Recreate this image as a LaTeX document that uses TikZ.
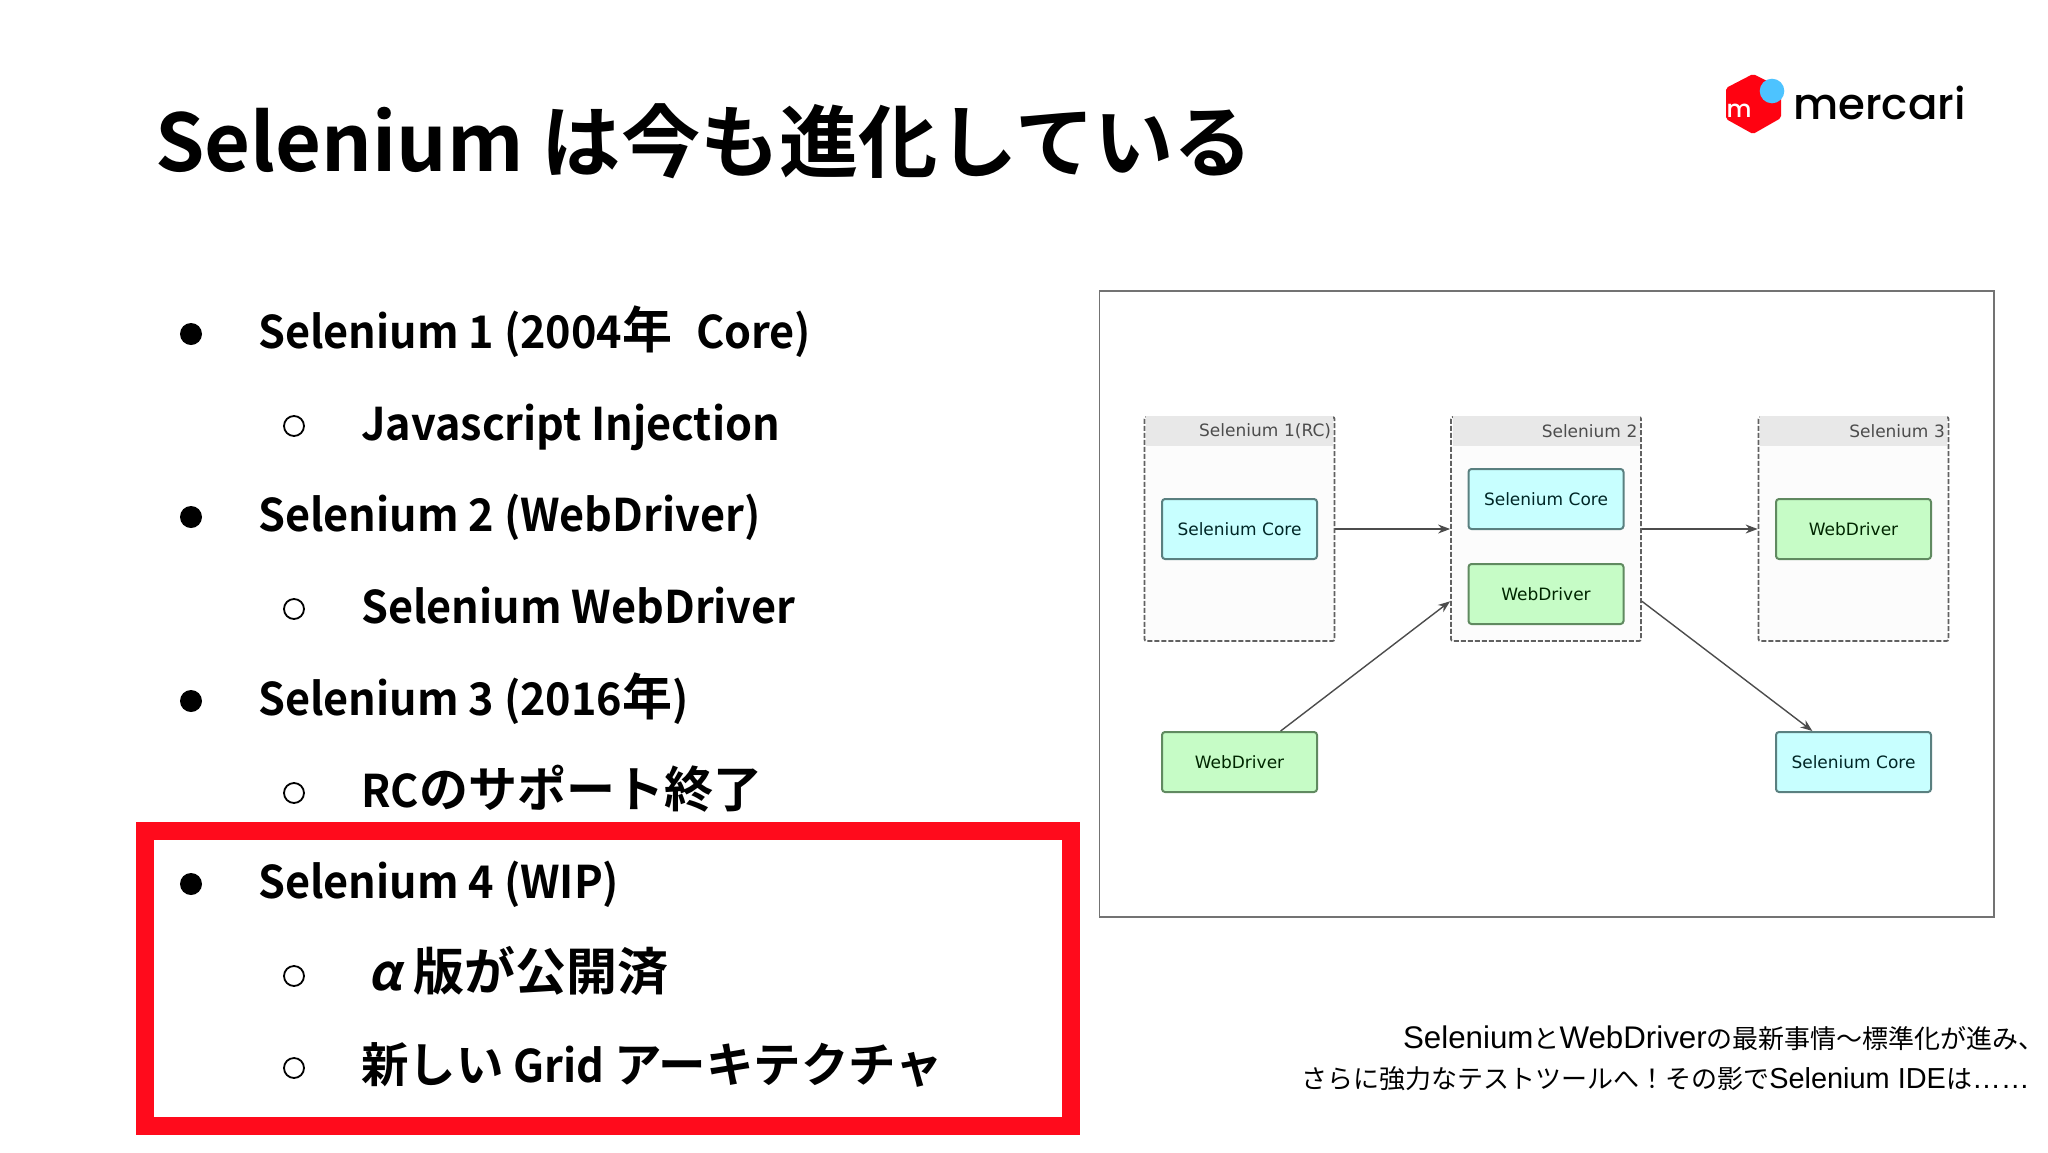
\documentclass[tikz,border=0pt]{standalone}
\usepackage{fontspec}
\setmainfont{Liberation Sans}
\newfontfamily\jpbold{Noto Sans CJK JP Bold}
\newfontfamily\jplatin[FakeStretch=0.96]{Noto Sans CJK JP Bold}
\newfontfamily\jpslant[FakeSlant=0.2]{Noto Sans CJK JP Bold}
\newfontfamily\jpthin{Noto Sans CJK JP}
\newfontfamily\logofont{Poppins Medium}
\newfontfamily\vera{DejaVu Sans}
\newcommand{\kana}[2][50]{{\jpbold\fontsize{#1}{54}\selectfont #2}}
\newcommand{\jpsmall}[1]{{\jpthin\fontsize{26}{34}\selectfont #1}}
\usetikzlibrary{arrows.meta,positioning}
\definecolor{corefill}{HTML}{C8FFFF}
\definecolor{coreline}{HTML}{5A8080}
\definecolor{wdfill}{HTML}{C6FCC6}
\definecolor{wdline}{HTML}{608A60}
\definecolor{alertred}{HTML}{FF0B1C}
\definecolor{logored}{HTML}{FF0211}
\definecolor{logoblue}{HTML}{4DC3FF}
\tikzset{
  listitem/.style={anchor=base west,inner sep=0pt,font=\jplatin\fontsize{45}{54}\selectfont},
  dot/.style={circle,fill=black,inner sep=0pt,minimum size=22pt},
  ring/.style={circle,draw=black,line width=1.8pt,inner sep=0pt,minimum size=20pt},
  grp/.style={draw=black!62,dash pattern=on 5pt off 2pt,line width=1.8pt,rounded corners=2pt,fill=black!1,
    minimum width=190pt,minimum height=224pt,inner sep=0pt},
  grphead/.style={fill=black!9,minimum width=187pt,minimum height=30pt,inner sep=0pt,
    anchor=north,align=right,text width=183pt,text=black!70,font=\vera\fontsize{17}{20}\selectfont},
  unit/.style={rounded corners=3pt,line width=2pt,minimum width=155pt,minimum height=60pt,
    inner sep=0pt,font=\vera\fontsize{17}{20}\selectfont},
  core/.style={unit,draw=coreline,fill=corefill,text=black!70!teal},
  wd/.style={unit,draw=wdline,fill=wdfill,text=black!75!green!60!black},
  flow/.style={-{Stealth[length=12pt,width=9pt]},line width=1.4pt,draw=black!70},
  source/.style={anchor=base east,inner sep=0pt}
}
\begin{document}
\begin{tikzpicture}[x=1pt,y=-1pt]
  \useasboundingbox (0,0) rectangle (2048,1152);
  \fill[white] (0,0) rectangle (2048,1152);

  % title and logo
  \node[anchor=base west,inner sep=0pt,font=\jpbold\fontsize{79.3}{96}\selectfont] (title) at (155,171)
    {Selenium は今も進化している};
  \fill[logored,rounded corners=2pt] (1753,74) -- (1781,88) -- (1781,118) -- (1753,134)
    -- (1726,119) -- (1726,88) -- cycle;
  \fill[logoblue] (1772,91) circle (12.3);
  \node[text=white,inner sep=0pt,font=\logofont\fontsize{24}{24}\selectfont] (logom) at (1739,111) {m};
  \node[anchor=base west,inner sep=0pt,font=\logofont\fontsize{43.5}{50}\selectfont] (logotext) at (1793,119) {mercari};

  % bullet list
  \foreach \ypos/\kind/\xpos/\txt in {
    348/dot/258/{Selenium 1 (2004\kana{年}\hspace{14pt} Core)},
    440/ring/361/{Javascript Injection},
    531/dot/258/{Selenium 2 (WebDriver)},
    623/ring/361/{Selenium WebDriver},
    715/dot/258/{Selenium 3 (2016\kana{年})},
    807/ring/361/{RC\kana[49]{のサポート終了}},
    898/dot/258/{Selenium 4 (WIP)},
    990/ring/361/{{\jpslant\,\fontsize{50}{54}\selectfont α}\hspace{2pt} \kana[51]{版が公開済}},
    1082/ring/361/{\kana[47.5]{新しい} Grid \kana[47.5]{アーキテクチャ}}}{
    \node[listitem] (item\ypos) at (\xpos,\ypos) {\txt};
    \node[\kind] (mark\ypos) at (\xpos-67,\ypos-14) {};
  }
  \draw[alertred,line width=18pt] (145,831) rectangle (1071,1126);

  % screenshot frame
  \draw[black!55,line width=1.4pt] (1099.5,291) rectangle (1994,917);
  \node[grp] (rcgroup) at (1239.5,529) {};
  \node[grp] (s2group) at (1546,529) {};
  \node[grp] (s3group) at (1853.5,529) {};
  \node[grphead] (rchead) at (rcgroup.north) {Selenium 1(RC)};
  \node[grphead] (s2head) at (s2group.north) {Selenium 2};
  \node[grphead] (s3head) at (s3group.north) {Selenium 3};
  \node[core] (rccore) at (1239.5,529) {Selenium Core};
  \node[core] (s2core) at (1546,499) {Selenium Core};
  \node[wd] (s2wd) at (1546,594) {WebDriver};
  \node[wd] (s3wd) at (1853.5,529) {WebDriver};
  \node[wd] (oldwd) at (1239.5,762) {WebDriver};
  \node[core] (oldcore) at (1853.5,762) {Selenium Core};
  \draw[flow] (rcgroup.east) -- (s2group.west);
  \draw[flow] (s2group.east) -- (s3group.west);
  \draw[flow] (oldwd.37) -- (s2group.217);
  \draw[flow] (s2group.323) -- (oldcore.143);

  % source
  \node[source,font=\fontsize{31.3}{34}\selectfont] (srcone) at (2045,1048)
    {Selenium\jpsmall{と}WebDriver\jpsmall{の最新事情〜標準化が進み、}};
  \node[source,font=\fontsize{28.9}{34}\selectfont] (srctwo) at (2030,1088)
    {\jpsmall{さらに強力なテストツールへ！その影で}Selenium IDE\jpsmall{は}……};
\end{tikzpicture}
\end{document}
